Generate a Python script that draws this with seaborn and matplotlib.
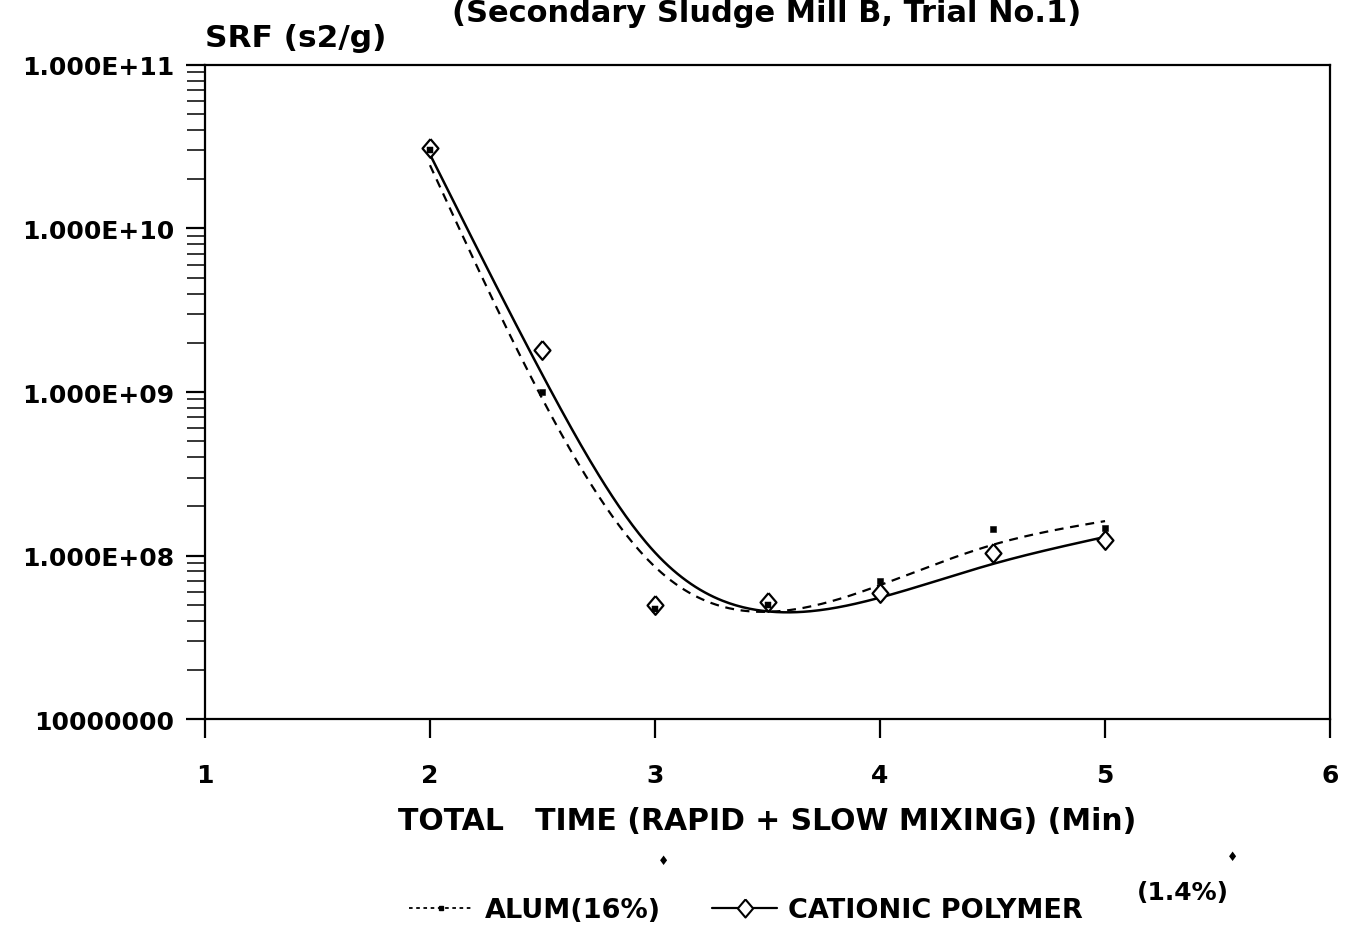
import numpy as np
import pandas as pd
import matplotlib
matplotlib.use("Agg")
import matplotlib.pyplot as plt
import seaborn as sns
from matplotlib.lines import Line2D
from matplotlib.ticker import LogLocator, NullFormatter, FixedLocator

# Mixing time (min) and specific resistance to filtration (s2/g)
time_min = [2.0, 2.5, 3.0, 3.5, 4.0, 4.5, 5.0]
srf_alum = [3.0e10, 1.0e9, 4.7e7, 5.0e7, 7.0e7, 1.45e8, 1.48e8]
srf_polymer = [3.1e10, 1.8e9, 5.0e7, 5.2e7, 5.9e7, 1.03e8, 1.24e8]

x_ticks = [1, 2, 3, 4, 5, 6]
y_ticks = [1e7, 1e8, 1e9, 1e10, 1e11]
y_tick_labels = ["10000000", "1.000E+08", "1.000E+09", "1.000E+10", "1.000E+11"]

sns.set_style("ticks")
plt.rcParams["font.family"] = ["DejaVu Sans"]
plt.rcParams["font.weight"] = "bold"
plt.rcParams["text.color"] = "black"
plt.rcParams["axes.labelcolor"] = "black"

fig = plt.figure(figsize=(13.51, 9.28), dpi=100)
ax = fig.add_axes([0.1517, 0.2241, 0.8328, 0.7048])


def smoothing_spline(x, y, lam, n=301):
    """Penalised (cubic-spline-like) smoother of log10(y) on a dense grid."""
    x = np.asarray(x, float)
    ly = np.log10(np.asarray(y, float))
    xs = np.linspace(x.min(), x.max(), n)
    h = xs[1] - xs[0]
    W = np.zeros((len(x), n))
    for i, xi in enumerate(x):
        j = int(round((xi - xs[0]) / h))
        W[i, j] = 1.0
    D = np.zeros((n - 2, n))
    for k in range(n - 2):
        D[k, k:k + 3] = [1.0, -2.0, 1.0]
    D /= h ** 2
    A = W.T @ W + lam * h * (D.T @ D)
    f = np.linalg.solve(A, W.T @ ly)
    return pd.DataFrame({"x": xs, "y": 10 ** f})


fit_alum = smoothing_spline(time_min, srf_alum, lam=0.03)
fit_poly = smoothing_spline(time_min, srf_polymer, lam=0.03)

sns.lineplot(data=fit_alum, x="x", y="y", ax=ax, color="black", lw=1.6,
             linestyle=(0, (4, 3)), sort=False)
sns.lineplot(data=fit_poly, x="x", y="y", ax=ax, color="black", lw=1.8,
             sort=False)

diamond = [(0, 1), (0.85, 0), (0, -1), (-0.85, 0), (0, 1)]
pts_alum = pd.DataFrame({"x": time_min, "y": srf_alum})
pts_poly = pd.DataFrame({"x": time_min, "y": srf_polymer})
sns.scatterplot(data=pts_alum, x="x", y="y", ax=ax, marker="s", s=22,
                color="black", edgecolor="black", zorder=4)
ax.plot(pts_poly["x"], pts_poly["y"], linestyle="none", marker=diamond,
        markersize=13.5, markerfacecolor="white", markeredgecolor="black",
        markeredgewidth=1.6, zorder=5)
sns.scatterplot(data=pts_alum[pts_alum["x"].isin([2.0, 3.0, 3.5])], x="x",
                y="y", ax=ax, marker="s", s=18, color="black",
                edgecolor="black", zorder=6)

ax.set_yscale("log")
ax.set_xlim(1, 6)
ax.set_ylim(1e7, 1e11)
ax.xaxis.set_major_locator(FixedLocator(x_ticks))
ax.set_xticklabels([str(t) for t in x_ticks])
ax.yaxis.set_major_locator(FixedLocator(y_ticks))
ax.set_yticklabels(y_tick_labels)
ax.yaxis.set_minor_locator(LogLocator(base=10, subs=np.arange(2, 10), numticks=20))
ax.yaxis.set_minor_formatter(NullFormatter())

ax.tick_params(axis="both", which="major", direction="out", length=14,
               width=1.6, labelsize=18, colors="black")
ax.tick_params(axis="y", which="major", pad=8)
ax.tick_params(axis="y", which="minor", direction="out", length=13, width=1.3)
ax.tick_params(axis="x", pad=18)
for lab in ax.get_xticklabels() + ax.get_yticklabels():
    lab.set_fontweight("bold")
for side in ["left", "right", "top", "bottom"]:
    ax.spines[side].set_visible(True)
    ax.spines[side].set_linewidth(1.6)
    ax.spines[side].set_color("black")

ax.set_xlabel("TOTAL   TIME (RAPID + SLOW MIXING) (Min)", fontsize=21.5,
              fontweight="bold", labelpad=13, color="black")
ax.set_ylabel("")

fig.text(0.5675, 1 - 22 / 928, "(Secondary Sludge Mill B, Trial No.1)",
         ha="center", va="baseline", fontsize=22, fontweight="bold")
fig.text(205 / 1351, 1 - 47 / 928, "SRF (s2/g)", ha="left", va="baseline",
         fontsize=22.5, fontweight="bold")

handles = [
    Line2D([], [], color="black", lw=1.3, linestyle=(0, (2, 2)), marker="s",
           markersize=3),
    Line2D([], [], color="black", lw=1.6, marker=diamond, markersize=13,
           markerfacecolor="white", markeredgewidth=1.5),
]
fig.legend(handles, ["ALUM(16%)", "CATIONIC POLYMER"], loc="center",
           bbox_to_anchor=(0.552, 1 - 911 / 928), ncol=2, frameon=False,
           prop={"size": 19.5, "weight": "bold"}, handlelength=2.4,
           handletextpad=0.4, columnspacing=1.9, labelcolor="black")
fig.text(1183 / 1351, 1 - 893 / 928, "(1.4%)", ha="center", va="center",
         fontsize=18, fontweight="bold")
fig.text(664 / 1351, 1 - 862 / 928, "♦", ha="center", va="center", fontsize=9)
fig.text(1233 / 1351, 1 - 858 / 928, "♦", ha="center", va="center", fontsize=9)

fig.savefig("out.png", dpi=100)
